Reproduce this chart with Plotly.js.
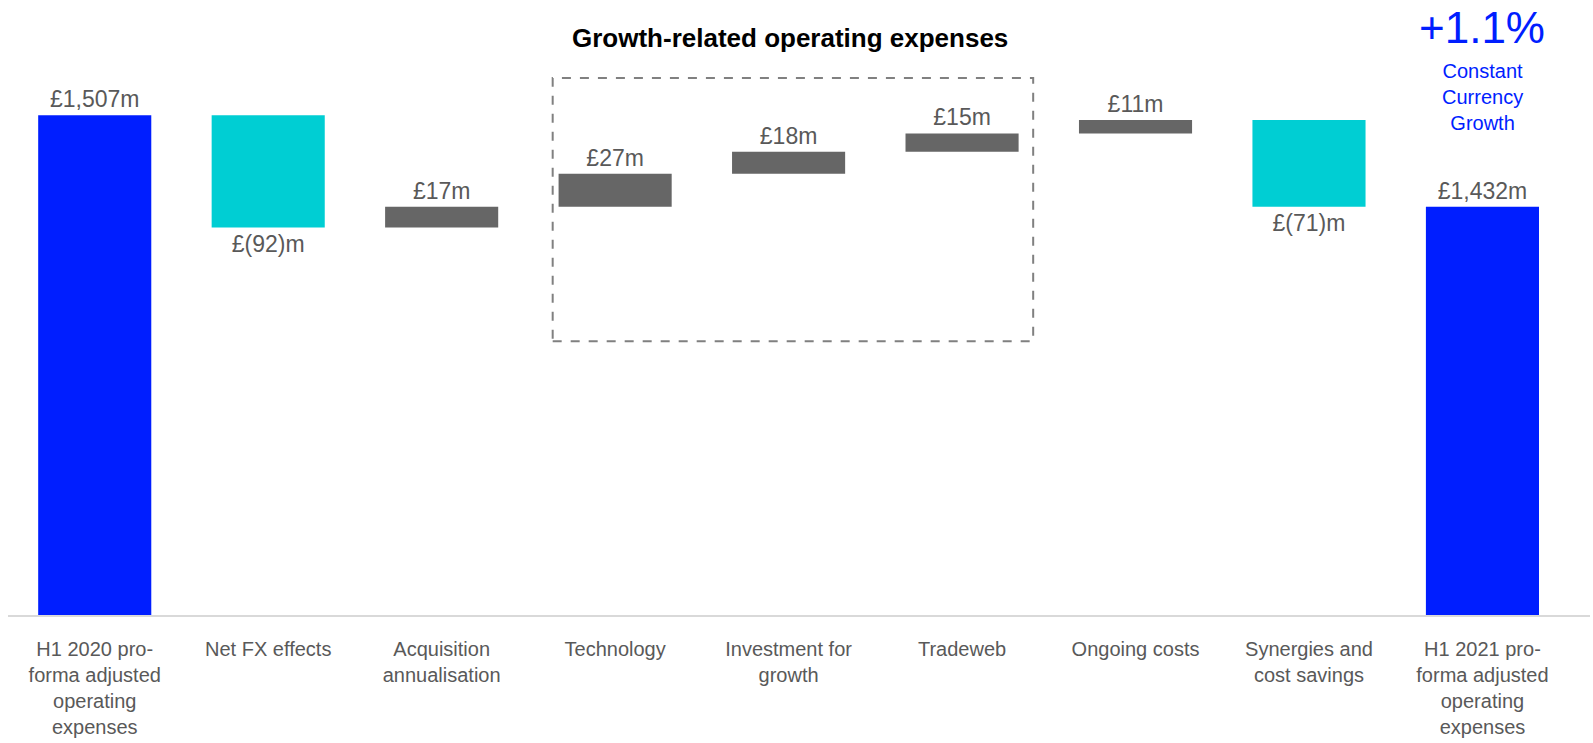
<!DOCTYPE html>
<html><head><meta charset="utf-8">
<script src="https://cdn.plot.ly/plotly-3.0.1.min.js"></script>
<style>html,body{margin:0;padding:0;background:#fff}</style>
</head><body><div id="chart" style="width:1593px;height:743px"></div>
<script>
const categories = [
  "H1 2020 pro-<br>forma adjusted<br>operating<br>expenses",
  "Net FX effects",
  "Acquisition<br>annualisation",
  "Technology",
  "Investment for<br>growth",
  "Tradeweb",
  "Ongoing costs",
  "Synergies and<br>cost savings",
  "H1 2021 pro-<br>forma adjusted<br>operating<br>expenses"
];
const values = [1507, -92, 17, 27, 18, 15, 11, -71, 0];
const measures = ["absolute","relative","relative","relative","relative","relative","relative","relative","total"];
const labels = ["£1,507m","£(92)m","£17m","£27m","£18m","£15m","£11m","£(71)m","£1,432m"];
const growthTitle = "Growth-related operating expenses";
const ccGrowth = "+1.1%";
const ccText = "Constant<br>Currency<br>Growth";

const trace = {
  type: "waterfall",
  x: categories,
  y: values,
  measure: measures,
  text: labels,
  textposition: "outside",
  textfont: {family: "Liberation Sans, Arial, sans-serif", size: 23, color: "#595959"},
  cliponaxis: false,
  width: 0.652,
  connector: {visible: false},
  increasing: {marker: {color: "#666666"}},
  decreasing: {marker: {color: "#00CED3"}},
  totals: {marker: {color: "#001EFF"}},
  hoverinfo: "none"
};

const layout = {
  width: 1593, height: 743,
  margin: {l: 8, r: 3, t: 40, b: 128},
  paper_bgcolor: "#fff", plot_bgcolor: "#fff",
  showlegend: false,
  xaxis: {
    type: "category",
    range: [-0.5, 8.62],
    showgrid: false, zeroline: false,
    showline: true, linecolor: "#d9d9d9", linewidth: 2,
    ticks: "outside", ticklen: 15, tickcolor: "rgba(0,0,0,0)",
    tickfont: {family: "Liberation Sans, Arial, sans-serif", size: 20, color: "#595959"}
  },
  yaxis: {
    range: [1098, 1568.5],
    visible: false, showgrid: false, zeroline: false
  },
  shapes: [{
    type: "rect", xref: "x", yref: "y",
    x0: 2.64, x1: 5.41, y0: 1322, y1: 1537.4,
    line: {color: "#808080", width: 2, dash: "dash"},
    fillcolor: "rgba(0,0,0,0)"
  }],
  annotations: [
    {xref: "x", yref: "paper", x: 4.01, y: 1.0035, yanchor: "middle", showarrow: false,
     text: "<b>" + growthTitle + "</b>",
     font: {family: "Liberation Sans, Arial, sans-serif", size: 26, color: "#000"}},
    {xref: "x", yref: "paper", x: 8, y: 1.021, yanchor: "middle", showarrow: false,
     text: ccGrowth,
     font: {family: "Liberation Sans, Arial, sans-serif", size: 44, color: "#001EFF"}},
    {xref: "x", yref: "paper", x: 8, y: 0.9009, yanchor: "middle", showarrow: false,
     text: ccText,
     font: {family: "Liberation Sans, Arial, sans-serif", size: 20, color: "#001EFF"}}
  ]
};

Plotly.newPlot("chart", [trace], layout, {displayModeBar: false, staticPlot: true});
</script>
</body></html>
